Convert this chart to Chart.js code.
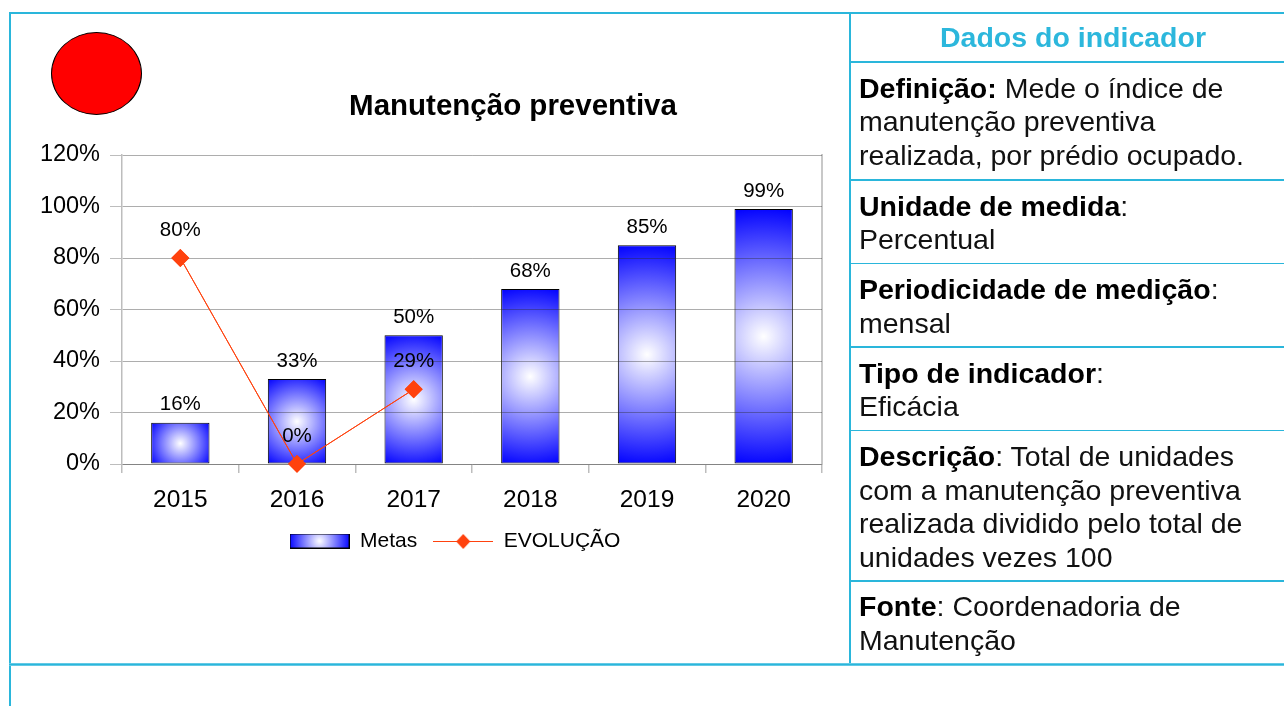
<!DOCTYPE html>
<html><head><meta charset="utf-8">
<script src="https://cdn.jsdelivr.net/npm/chart.js@4.4.1/dist/chart.umd.min.js"></script>
<style>
html,body{margin:0;padding:0;background:#fff;}
body{width:1284px;height:706px;overflow:hidden;position:relative;font-family:"Liberation Sans",Arial,sans-serif;color:#000;}
#chartBox{position:absolute;left:-61px;top:0;width:1032px;height:663px;}
.ln{position:absolute;background:#2ab6db;z-index:5;}
#circle{position:absolute;left:51px;top:32px;width:89px;height:81px;border-radius:50%;background:#ff0000;border:1px solid #000;}
#title{position:absolute;left:263px;width:500px;top:87px;text-align:center;font-weight:bold;font-size:29.5px;line-height:36px;white-space:nowrap;}
#hdr{position:absolute;left:849px;width:448px;top:21px;text-align:center;font-weight:bold;font-size:28.5px;line-height:33.5px;color:#2cb7dc;white-space:nowrap;}
.row{position:absolute;left:859px;font-size:28.5px;line-height:33.5px;white-space:nowrap;color:#111;}
.row b{font-weight:bold;color:#000;}
</style></head>
<body>
<div id="chartBox"><canvas id="c"></canvas></div>
<div id="circle"></div>
<div id="title">Manutenção preventiva</div>
<div id="hdr">Dados do indicador</div>
<div class="row" style="top:71.5px"><b>Definição:</b> Mede o índice de<br>manutenção preventiva<br>realizada, por prédio ocupado.</div>
<div class="row" style="top:189.5px"><b>Unidade de medida</b>:<br>Percentual</div>
<div class="row" style="top:273px"><b>Periodicidade de medição</b>:<br>mensal</div>
<div class="row" style="top:356.5px"><b>Tipo de indicador</b>:<br>Eficácia</div>
<div class="row" style="top:440px"><b>Descrição</b>: Total de unidades<br>com a manutenção preventiva<br>realizada dividido pelo total de<br>unidades vezes 100</div>
<div class="row" style="top:590px"><b>Fonte</b>: Coordenadoria de<br>Manutenção</div>
<div class="ln" style="left:9px;top:12px;width:1290px;height:1.5px"></div>
<div class="ln" style="left:9px;top:12px;width:1.5px;height:694px"></div>
<div class="ln" style="left:849px;top:12px;width:1.5px;height:651px"></div>
<div class="ln" style="left:849px;top:61px;width:450px;height:1.5px"></div>
<div class="ln" style="left:849px;top:179px;width:450px;height:1.5px"></div>
<div class="ln" style="left:849px;top:262.5px;width:450px;height:1.5px"></div>
<div class="ln" style="left:849px;top:346px;width:450px;height:1.5px"></div>
<div class="ln" style="left:849px;top:429.5px;width:450px;height:1.5px"></div>
<div class="ln" style="left:849px;top:580px;width:450px;height:1.5px"></div>
<div class="ln" style="left:9px;top:662.5px;width:1290px;height:3px;background:linear-gradient(#7fd3ea,#2ab6db,#7fd3ea)"></div>
<script>
const categories = ['2015', '2016', '2017', '2018', '2019', '2020'];
const metas = [16, 33, 50, 68, 85, 99];
const evolucao = [80, 0, 29, null, null, null];
const yTicks = [0, 20, 40, 60, 80, 100, 120];
const seriesNames = ['Metas', 'EVOLUÇÃO'];

const FONT = '"Liberation Sans", Arial, sans-serif';
const GRID = 'rgba(40,40,40,0.38)';
const AXIS = '#bdbdbd';
const LINE = '#ff420e';

// circular radial gradient: white centre to blue at half the box diagonal
function radialFill(ctx2d, left, top, w, h) {
  const cx = left + w / 2, cy = top + h / 2;
  const r = Math.max(1, Math.sqrt(w * w + h * h) / 2);
  const g = ctx2d.createRadialGradient(cx, cy, 0, cx, cy, r);
  g.addColorStop(0, '#ffffff');
  g.addColorStop(1, '#0000ff');
  return g;
}
function legendBarIcon() {
  const cv = document.createElement('canvas'); cv.width = 60; cv.height = 15;
  const x = cv.getContext('2d');
  x.fillStyle = radialFill(x, 0, 0, 60, 15);
  x.fillRect(0, 0, 60, 15);
  x.strokeStyle = '#000'; x.lineWidth = 1; x.strokeRect(0.5, 0.5, 59, 14);
  return cv;
}
function legendLineIcon() {
  const cv = document.createElement('canvas'); cv.width = 60; cv.height = 16;
  const x = cv.getContext('2d');
  x.strokeStyle = LINE; x.lineWidth = 1;
  x.beginPath(); x.moveTo(0, 8.5); x.lineTo(60, 8.5); x.stroke();
  x.fillStyle = LINE;
  x.beginPath(); x.moveTo(30, 1); x.lineTo(37, 8.5); x.lineTo(30, 16); x.lineTo(23, 8.5); x.closePath(); x.fill();
  return cv;
}

const labelPlugin = {
  id: 'labelPlugin',
  afterDraw(chart) {
    const ctx = chart.ctx;
    const lineMeta = chart.getDatasetMeta(1);
    ctx.save(); lineMeta.controller.draw(); ctx.restore();
    ctx.save();
    ctx.font = '20.5px ' + FONT;
    ctx.fillStyle = '#000'; ctx.textAlign = 'center'; ctx.textBaseline = 'middle';
    chart.getDatasetMeta(0).data.forEach((el, i) => ctx.fillText(metas[i] + '%', el.x, el.y - 18));
    lineMeta.data.forEach((el, i) => { if (evolucao[i] != null) ctx.fillText(evolucao[i] + '%', el.x, el.y - 28); });
    ctx.restore();
  }
};

new Chart(document.getElementById('c'), {
  data: {
    labels: categories,
    datasets: [
      {
        type: 'bar', label: seriesNames[0], data: metas, order: 1,
        barPercentage: 0.5, categoryPercentage: 1,
        borderColor: '#000', borderWidth: 1, borderSkipped: false,
        backgroundColor: (c) => {
          if (c.type !== 'data') return '#0000ff';
          const ch = c.chart, xs = ch.scales.x, ys = ch.scales.y;
          if (!xs || !ys) return '#0000ff';
          const w = xs.width / categories.length * 0.5;
          const cx = xs.getPixelForValue(c.dataIndex);
          const top = ys.getPixelForValue(c.raw);
          const base = ys.getPixelForValue(0);
          return radialFill(ch.ctx, cx - w / 2, top, w, base - top);
        }
      },
      {
        type: 'line', label: seriesNames[1], data: evolucao, order: 0,
        borderColor: LINE, borderWidth: 1, backgroundColor: LINE,
        pointStyle: 'rectRot', pointRadius: 9, pointHoverRadius: 9,
        pointBackgroundColor: LINE, pointBorderColor: LINE, pointBorderWidth: 0,
        spanGaps: false, tension: 0
      }
    ]
  },
  options: {
    responsive: true, maintainAspectRatio: false, animation: false,
    events: [],
    layout: { padding: { left: 0, right: 0, top: 155, bottom: 101.5 } },
    scales: {
      x: {
        offset: true,
        afterFit: (s) => { s.height = 50.5; },
        grid: { offset: true, drawOnChartArea: false, drawTicks: true, tickLength: 9, color: AXIS, lineWidth: 1.5 },
        border: { color: AXIS, width: 1 },
        ticks: { color: '#000', font: { family: FONT, size: 24.5 }, padding: 13 }
      },
      y: {
        min: 0, max: 120,
        afterFit: (s) => { s.width = 183; },
        afterBuildTicks: (s) => { s.ticks = yTicks.map(v => ({ value: v })); },
        grid: { color: GRID, z: 1, tickLength: 12, tickColor: AXIS },
        border: { color: AXIS, width: 1.5, z: 2 },
        ticks: { color: '#000', font: { family: FONT, size: 23.5 }, padding: 10, callback: (v) => v + '%' }
      },
      y2: {
        position: 'right', min: 0, max: 120,
        afterFit: (s) => { s.width = 149; },
        grid: { display: false },
        ticks: { display: false },
        border: { display: true, color: '#c8c8c8', width: 2 }
      }
    },
    plugins: {
      title: { display: false },
      tooltip: { enabled: false },
      legend: {
        display: true, position: 'bottom',
        labels: {
          usePointStyle: true, pointStyleWidth: 60, padding: 16,
          color: '#000', font: { family: FONT, size: 21 },
          generateLabels: () => [
            { text: seriesNames[0], pointStyle: legendBarIcon(), fontColor: '#000', hidden: false, datasetIndex: 0, lineWidth: 0 },
            { text: seriesNames[1], pointStyle: legendLineIcon(), fontColor: '#000', hidden: false, datasetIndex: 1, lineWidth: 0 }
          ]
        }
      }
    }
  },
  plugins: [labelPlugin]
});
</script>
</body></html>
